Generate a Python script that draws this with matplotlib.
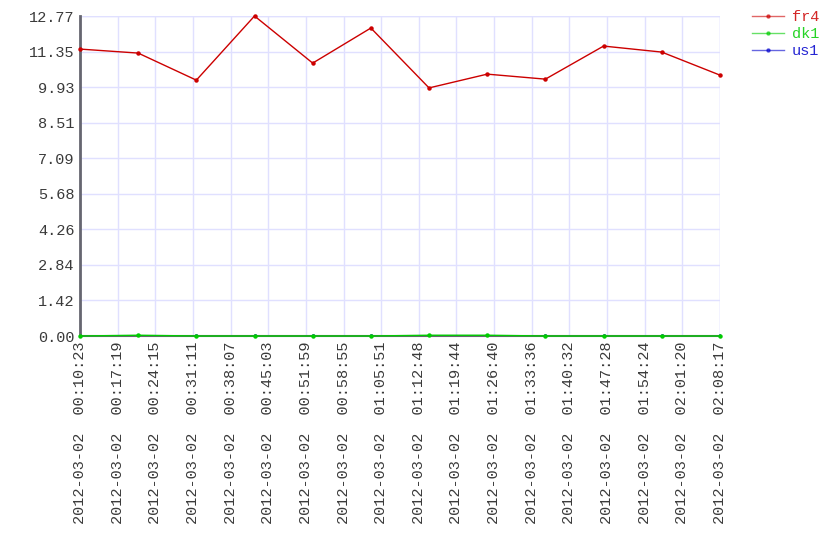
import numpy as np
import pandas as pd
import matplotlib
matplotlib.use('Agg')
import matplotlib.pyplot as plt

times = ["00:10:23", "00:21:06", "00:31:49", "00:42:32", "00:53:15", "01:03:58",
         "01:14:41", "01:25:24", "01:36:07", "01:46:50", "01:57:33", "02:08:17"]
fr4 = [11.45, 11.29, 10.21, 12.77, 10.89, 12.29, 9.90, 10.45, 10.25, 11.57, 11.33, 10.41]
dk1 = [0.0, 0.03, 0.0, 0.0, 0.0, 0.0, 0.03, 0.03, 0.0, 0.0, 0.0, 0.0]
us1 = [0.0] * 12

series = [("fr4", fr4, "#cc0000", 5), ("dk1", dk1, "#00cc00", 4), ("us1", us1, "#0000cc", 1.5)]

plt.rcParams['font.family'] = ['Liberation Mono', 'DejaVu Sans Mono']

x = pd.to_datetime(["2012-03-02 " + t for t in times])
xs = (x - x[0]).total_seconds().to_numpy()

fig = plt.figure(figsize=(8.4, 5.6), dpi=100)
ax = fig.add_axes([80 / 840, 1 - 336 / 560, 640 / 840, 320 / 560])

handles = []
for name, vals, col, z in series:
    ln, = ax.plot(xs, vals, color=col, lw=1, marker='o', ms=2.2, label=name,
                  clip_on=(z < 2), zorder=z)
    handles.append(ln)

ax.set_xlim(0, xs[-1])
ax.set_ylim(0, max(fr4))

xt = np.linspace(0, xs[-1], 18)
ax.set_xticks(xt)
ax.set_xticklabels([(x[0] + pd.Timedelta(seconds=int(s))).strftime("%Y-%m-%d  %H:%M:%S") for s in xt],
                   rotation=90)
yt = np.linspace(0, max(fr4), 10)
ax.set_yticks(yt)
ax.set_yticklabels([f"{v:.2f}" for v in yt])

ax.tick_params(length=0, labelsize=11, colors='#3a3a3a', pad=4)
ax.grid(True, color='#e0e0ff', lw=1)
ax.set_axisbelow(True)
for s in ['top', 'right']:
    ax.spines[s].set_visible(False)
ax.spines['left'].set_color('#666670')
ax.spines['left'].set_linewidth(2)
ax.spines['bottom'].set_color('#666670')
ax.spines['bottom'].set_linewidth(1.5)
for s in ax.spines.values():
    s.set_zorder(2)
ax.axhline(max(fr4), color='#e0e0ff', lw=1, zorder=0)
ax.axvline(xs[-1], color='#e0e0ff', lw=1, zorder=0)

leg = fig.legend(handles, [s[0] for s in series], loc='upper left', bbox_to_anchor=(746 / 840, 1 - 4 / 560),
                 frameon=False, fontsize=11, handlelength=2.1, handletextpad=0.5,
                 labelspacing=0.2, labelcolor='linecolor', borderaxespad=0)
for h in leg.legend_handles:
    h.set_alpha(0.6)
for t in leg.get_texts():
    t.set_alpha(0.85)

fig.savefig("out.png", dpi=100)
